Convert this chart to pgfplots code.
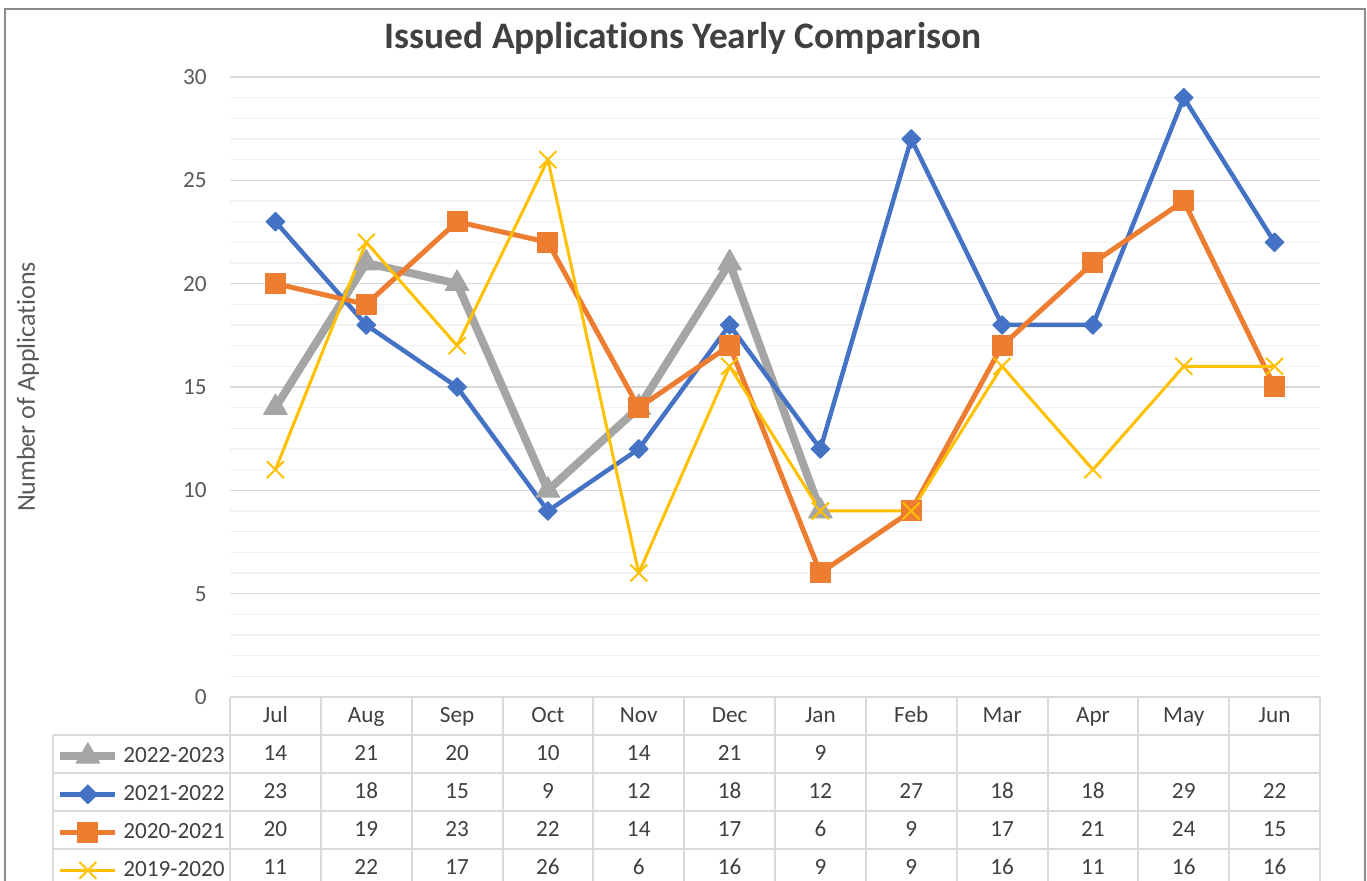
\documentclass[border=0pt]{standalone}
\usepackage{fontspec}
\setmainfont{Carlito}[Ligatures=NoCommon]
\usepackage{pgfplots}
\pgfplotsset{compat=1.18}

\definecolor{ser1}{HTML}{A5A5A5}
\definecolor{ser2}{HTML}{4472C4}
\definecolor{ser3}{HTML}{ED7D31}
\definecolor{ser4}{HTML}{FFC000}
\definecolor{gmaj}{HTML}{D9D9D9}
\definecolor{gmin}{HTML}{F2F2F2}
\definecolor{txt}{HTML}{595959}
\definecolor{txtd}{HTML}{404040}
\definecolor{frame}{HTML}{8C8C8C}

\newcommand{\tfont}{\fontsize{11.6}{13}\selectfont}

\begin{document}
\begin{tikzpicture}
% page = 1367x881 px, 1px = 0.5pt, plot box lower left at (0,0)
\useasboundingbox (-115pt,-92pt) rectangle (568.5pt,348.5pt);

\begin{axis}[
  scale only axis,
  width=545pt, height=310pt,
  xmin=0.5, xmax=12.5,
  ymin=0, ymax=30,
  xtick=\empty,
  ytick={0,5,...,30},
  minor y tick num=4,
  ymajorgrids, yminorgrids,
  major grid style={gmaj, line width=0.75pt},
  minor grid style={gmin, line width=0.75pt},
  axis line style={draw=none},
  major tick style={draw=none}, minor tick style={draw=none},
  /pgf/number format/assume math mode=true,
  yticklabel style={font=\tfont, text=txt, inner sep=0pt, xshift=-11.5pt},
  clip=false,
  legend cell align=left,
  legend image code/.code={\draw[mark repeat=2, mark phase=2] plot coordinates {(0pt,0pt)(13.75pt,0pt)(27.5pt,0pt)};},
  legend style={at={(rel axis cs:0,0)}, anchor=north west, xshift=-87pt, yshift=-20pt,
    draw=none, fill=none, inner sep=0pt, row sep=0pt, font=\tfont, text=txtd,
    nodes={inner sep=0pt, minimum height=19pt},
    /tikz/every odd column/.style={column sep=2pt}},
]
\addplot[ser1, line width=4pt, line join=round, mark=triangle*, mark size=6.8pt,
  mark options={solid, line width=0.5pt}]
  coordinates {(1,14)(2,21)(3,20)(4,10)(5,14)(6,21)(7,9)};
\addlegendentry{2022-2023}
\addplot[ser2, line width=2.25pt, line join=round, mark=square*, mark size=3.3pt,
  mark options={solid, rotate=45, line width=0.5pt}]
  coordinates {(1,23)(2,18)(3,15)(4,9)(5,12)(6,18)(7,12)(8,27)(9,18)(10,18)(11,29)(12,22)};
\addlegendentry{2021-2022}
\addplot[ser3, line width=2.5pt, line join=round, mark=square*, mark size=5pt,
  mark options={solid, line width=0.5pt}]
  coordinates {(1,20)(2,19)(3,23)(4,22)(5,14)(6,17)(7,6)(8,9)(9,17)(10,21)(11,24)(12,15)};
\addlegendentry{2020-2021}
\addplot[ser4, line width=1.5pt, line join=round, mark=x, mark size=6pt,
  mark options={solid, line width=1pt}]
  coordinates {(1,11)(2,22)(3,17)(4,26)(5,6)(6,16)(7,9)(8,9)(9,16)(10,11)(11,16)(12,16)};
\addlegendentry{2019-2020}
\end{axis}

% texts and data table, in pixel units of the reference (y down)
\begin{scope}[x=0.5pt, y=-0.5pt, shift={(-230,-697)},
    cell/.style={font=\tfont, text=txtd, anchor=base}]
  \draw[frame, line width=1pt] (5,9) rectangle (1365,900);
  \node[font=\fontsize{18.7}{22}\selectfont\bfseries, text=txtd] at (683,38) {Issued Applications Yearly Comparison};
  \node[rotate=90, font=\fontsize{13}{15}\selectfont, text=txt] at (28,387) {Number of Applications};
  \draw[gmaj, line width=1pt] (230,697) -- (1320,697);
  \foreach \y in {735,773,811,849}
    \draw[gmaj, line width=1pt] (53,\y) -- (1320,\y);
  \draw[gmaj, line width=1pt] (53,735) -- (53,900);
  \foreach \k in {0,...,12}
    \draw[gmaj, line width=1pt] ({230+\k*90.8333},697) -- ({230+\k*90.8333},900);
  \foreach \m [count=\i] in {Jul,Aug,Sep,Oct,Nov,Dec,Jan,Feb,Mar,Apr,May,Jun}
    \node[cell] at ({230+(\i-0.5)*90.8333},723) {\m};
  \foreach \v [count=\i] in {14,21,20,10,14,21,9}
    \node[cell] at ({230+(\i-0.5)*90.8333},761) {\v};
  \foreach \v [count=\i] in {23,18,15,9,12,18,12,27,18,18,29,22}
    \node[cell] at ({230+(\i-0.5)*90.8333},799) {\v};
  \foreach \v [count=\i] in {20,19,23,22,14,17,6,9,17,21,24,15}
    \node[cell] at ({230+(\i-0.5)*90.8333},837) {\v};
  \foreach \v [count=\i] in {11,22,17,26,6,16,9,9,16,11,16,16}
    \node[cell] at ({230+(\i-0.5)*90.8333},875) {\v};
\end{scope}
\end{tikzpicture}
\end{document}
